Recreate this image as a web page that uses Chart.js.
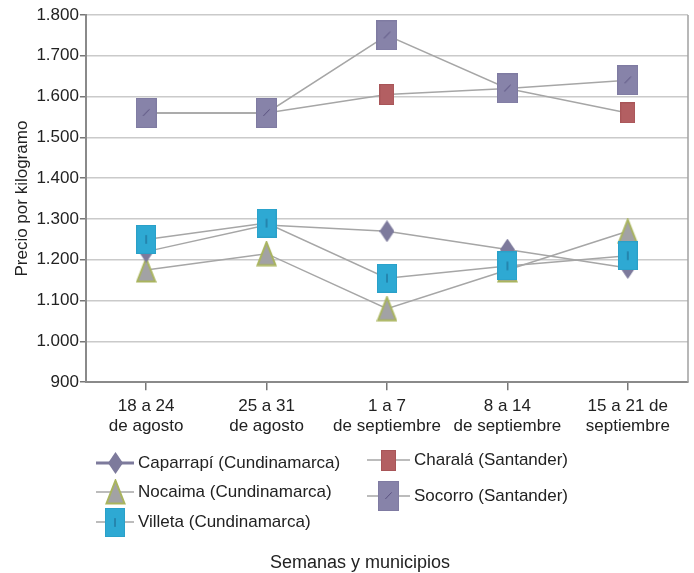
<!DOCTYPE html>
<html>
<head>
<meta charset="utf-8">
<script src="https://cdn.jsdelivr.net/npm/chart.js@4"></script>
<style>
  html, body { margin: 0; padding: 0; background: #fff; overflow: hidden; }
  #wrap { position: relative; width: 694px; height: 573px; font-family: "Liberation Sans", Arial, sans-serif; color: #222; }
  #c { position: absolute; left: 0; top: 0; }
  .leg { position: absolute; display: flex; align-items: center; font-size: 17px; white-space: nowrap; }
  .leg canvas { display: block; margin-right: 4px; }
  #xtitle { position: absolute; top: 553px; left: 0; width: 694px; text-align: center; font-size: 18px; line-height: 19px; padding-left: 26px; box-sizing: border-box; }
</style>
</head>
<body>
<div id="wrap">
  <canvas id="c" width="694" height="573"></canvas>
  <div id="legend"></div>
  <div id="xtitle">Semanas y municipios</div>
</div>
<script>
// ---- data ----
const categories = [["18 a 24", "de agosto"], ["25 a 31", "de agosto"], ["1 a 7", "de septiembre"], ["8 a 14", "de septiembre"], ["15 a 21 de", "septiembre"]];
const seriesNames = ["Caparrapí (Cundinamarca)", "Nocaima (Cundinamarca)", "Villeta (Cundinamarca)", "Charalá (Santander)", "Socorro (Santander)"];
const caparrapi = [1220, 1285, 1270, 1225, 1180];
const nocaima   = [1175, 1215, 1080, 1175, 1270];
const villeta   = [1250, 1290, 1155, 1185, 1210];
const charala   = [1560, 1560, 1605, 1620, 1560];
const socorro   = [1560, 1560, 1750, 1620, 1640];
const yMin = 900, yMax = 1800, yStep = 100;
const yTitle = "Precio por kilogramo";

// ---- marker images ----
function mk(w, h, draw) {
  const c = document.createElement('canvas');
  c.width = w; c.height = h;
  draw(c.getContext('2d'), w, h);
  return c;
}
function rectMarker(w, h, fill, stroke, mark) {
  return mk(w, h, (g) => {
    g.fillStyle = fill; g.fillRect(0, 0, w, h);
    g.strokeStyle = stroke; g.lineWidth = 1; g.strokeRect(0.5, 0.5, w - 1, h - 1);
    if (mark === 'slash') {
      g.strokeStyle = 'rgba(70,60,110,0.7)'; g.lineWidth = 1;
      g.beginPath(); g.moveTo(w * 0.35, h * 0.6); g.lineTo(w * 0.65, h * 0.38); g.stroke();
    } else if (mark === 'bar') {
      g.strokeStyle = 'rgba(20,70,110,0.7)'; g.lineWidth = 1;
      g.beginPath(); g.moveTo(w / 2, h * 0.35); g.lineTo(w / 2, h * 0.65); g.stroke();
    }
  });
}
function triMarker(w, h) {
  return mk(w, h, (g) => {
    g.beginPath(); g.moveTo(w / 2, 1.5); g.lineTo(w - 1.5, h - 1.5); g.lineTo(1.5, h - 1.5); g.closePath();
    g.fillStyle = '#a2a2a4'; g.fill();
    g.strokeStyle = '#a9b45e'; g.lineWidth = 2; g.stroke();
  });
}
function diaMarker(w, h) {
  return mk(w, h, (g) => {
    g.beginPath(); g.moveTo(w / 2, 0); g.lineTo(w, h / 2); g.lineTo(w / 2, h); g.lineTo(0, h / 2); g.closePath();
    g.fillStyle = '#7d7a9c'; g.fill();
  });
}
const mCap = diaMarker(15, 22);
const mNoc = triMarker(21, 26);
const mVil = rectMarker(20, 29, '#2ea9d3', '#2aa0c8', 'bar');
const mCha = rectMarker(15, 21, '#b35f62', '#a85558');
const mSoc = rectMarker(21, 30, '#8783a9', '#7f7ba2', 'slash');

const lineColor = '#a6a6a6';
function ds(label, data, img, order) {
  return { label, data, pointStyle: img, pointRadius: 10, pointHoverRadius: 10, borderColor: lineColor, backgroundColor: lineColor, borderWidth: 1.5, tension: 0, order, clip: false };
}

const rightBorder = {
  id: 'rightBorder',
  beforeDatasetsDraw(chart) {
    const a = chart.chartArea, g = chart.ctx;
    g.save(); g.strokeStyle = '#a0a0a0'; g.lineWidth = 1.5;
    g.beginPath(); g.moveTo(a.right, a.top); g.lineTo(a.right, a.bottom); g.stroke(); g.restore();
  }
};

const fontFam = '"Liberation Sans", Arial, sans-serif';
new Chart(document.getElementById('c'), {
  type: 'line',
  data: {
    labels: categories,
    datasets: [
      ds(seriesNames[0], caparrapi, mCap, 3),
      ds(seriesNames[1], nocaima, mNoc, 4),
      ds(seriesNames[2], villeta, mVil, 1),
      ds(seriesNames[3], charala, mCha, 5),
      ds(seriesNames[4], socorro, mSoc, 2)
    ]
  },
  options: {
    responsive: false,
    animation: false,
    devicePixelRatio: 1,
    layout: { autoPadding: false, padding: { left: 12, right: 6, top: 15, bottom: 130 } },
    plugins: { legend: { display: false }, tooltip: { enabled: false } },
    scales: {
      x: {
        offset: true,
        afterFit: (s) => { s.paddingRight = 0; s.paddingLeft = 0; },
        grid: { display: true, drawOnChartArea: false, offset: false, tickLength: 8, color: '#777', lineWidth: 1.5 },
        border: { color: '#8a8a8a', width: 2 },
        ticks: { color: '#222', font: { family: fontFam, size: 17 }, maxRotation: 0, autoSkip: false, padding: 6 }
      },
      y: {
        min: yMin, max: yMax,
        grid: { color: '#cacaca', lineWidth: 1.5, tickLength: 6, tickColor: '#777' },
        border: { color: '#8a8a8a', width: 2 },
        ticks: { stepSize: yStep, color: '#222', font: { family: fontFam, size: 17 }, padding: 1,
          callback: (v) => String(v).replace(/\B(?=(\d{3})+(?!\d))/g, '.') },
        title: { display: true, text: yTitle, color: '#222', font: { family: fontFam, size: 17 }, padding: { top: 0, bottom: 3 } }
      }
    }
  },
  plugins: [rightBorder]
});

// ---- HTML legend ----
const legendItems = [
  { name: seriesNames[0], img: mCap, x: 96, y: 463, lw: 38, lineColor: '#7d7a9c', lineWidth: 3 },
  { name: seriesNames[1], img: mNoc, x: 96, y: 492, lw: 38, lineColor: lineColor, lineWidth: 1.5 },
  { name: seriesNames[2], img: mVil, x: 96, y: 522, lw: 38, lineColor: lineColor, lineWidth: 1.5 },
  { name: seriesNames[3], img: mCha, x: 367, y: 460, lw: 43, lineColor: lineColor, lineWidth: 1.5 },
  { name: seriesNames[4], img: mSoc, x: 367, y: 496, lw: 43, lineColor: lineColor, lineWidth: 1.5 }
];
const legEl = document.getElementById('legend');
legendItems.forEach(it => {
  const h = 32;
  const ic = mk(it.lw, h, (g, w) => {
    g.strokeStyle = it.lineColor; g.lineWidth = it.lineWidth;
    g.beginPath(); g.moveTo(0, h / 2); g.lineTo(w, h / 2); g.stroke();
    g.drawImage(it.img, Math.round(w / 2 - it.img.width / 2), Math.round(h / 2 - it.img.height / 2));
  });
  const d = document.createElement('div');
  d.className = 'leg';
  d.style.left = it.x + 'px';
  d.style.top = (it.y - h / 2) + 'px';
  d.style.height = h + 'px';
  d.appendChild(ic);
  const s = document.createElement('span');
  s.textContent = it.name;
  d.appendChild(s);
  legEl.appendChild(d);
});
</script>
</body>
</html>
